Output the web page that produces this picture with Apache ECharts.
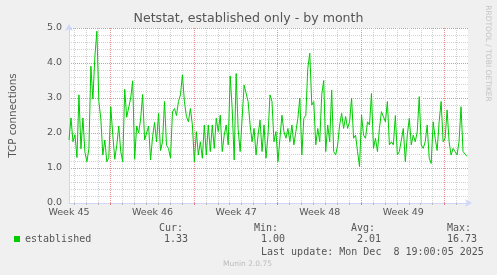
<!DOCTYPE html>
<html>
<head>
<meta charset="utf-8">
<script src="https://cdn.jsdelivr.net/npm/echarts@6/dist/echarts.min.js"></script>
<style>
html,body{margin:0;padding:0;background:#F0F0F0;}
#c{width:497px;height:275px;}
</style>
</head>
<body>
<div id="c"></div>
<script>
// ---- data ----
const weekLabels = ['Week 45', 'Week 46', 'Week 47', 'Week 48', 'Week 49'];
// one sample every 4 hours (1/6 day), starting at the left edge of the plot
const established = [
  1.8, 2.43, 1.75, 1.95, 1.3, 3.09, 1.55, 2.43, 1.45, 1.18,
  1.55, 3.91, 2.97, 4.18, 4.91, 2.9, 2.4, 1.37, 1.8, 1.18,
  1.3, 2.75, 1.95, 1.25, 1.65, 2.2, 1.47, 1.18, 3.25, 2.45,
  2.5, 3.0, 3.49, 1.25, 2.2, 2.0, 2.4, 3.1, 1.8, 1.75,
  2.2, 1.23, 1.9, 2.3, 1.75, 2.56, 1.5, 1.75, 2.9, 1.65,
  1.56, 1.28, 2.6, 2.7, 2.5, 2.9, 3.09, 3.66, 2.9, 2.47,
  2.32, 2.7, 2.23, 1.18, 2.04, 1.37, 1.75, 1.28, 2.23, 1.37,
  2.23, 1.47, 2.23, 1.56, 2.42, 2.04, 2.51, 1.47, 1.94, 2.23,
  1.66, 3.63, 2.7, 1.23, 3.7, 2.1, 1.47, 2.42, 3.37, 3.37,
  2.9, 2.23, 1.75, 2.13, 1.37, 1.94, 2.37, 1.47, 2.23, 1.28,
  1.94, 3.09, 2.9, 1.75, 2.04, 1.18, 1.85, 2.51, 2.04, 1.85,
  2.13, 1.75, 2.23, 1.66, 2.04, 2.42, 3.0, 1.37, 2.42, 2.51,
  3.85, 4.28, 2.8, 2.9, 1.66, 2.13, 1.75, 3.09, 3.5, 1.47,
  2.23, 1.75, 3.23, 1.47, 1.37, 1.66, 2.23, 2.56, 2.13, 2.47,
  2.13, 2.32, 3.0, 1.85, 1.94, 1.47, 1.04, 2.51, 1.94, 1.85,
  2.32, 2.23, 3.13, 1.56, 1.85, 1.47, 2.13, 2.61, 2.61, 2.32,
  2.9, 1.66, 1.75, 1.66, 2.5, 1.37, 1.47, 1.5, 2.13, 1.18,
  1.94, 2.42, 1.66, 1.94, 1.75, 2.04, 3.04, 1.66, 1.56, 1.75,
  2.23, 1.28, 1.13, 2.32, 1.85, 1.5, 2.32, 2.9, 1.75, 1.85,
  2.66, 1.75, 1.37, 1.56, 1.47, 1.37, 1.75, 2.75, 1.47, 1.42,
  1.33
];
const STEP_DAYS = 1 / 6;
const PX_PER_DAY = 12;
const PLOT_W = 401, PLOT_H = 175;
const X_SPAN_DAYS = PLOT_W / PX_PER_DAY;   // visible range in days
const DAY_LINE_FIRST = 5.5 / PX_PER_DAY;    // first day grid line (days from left edge)
const Y_MIN = 0, Y_MAX = 5, Y_MAJOR = 1, Y_MINOR = 0.2;
const Y_HALF_PX = 0.5 * (Y_MAX - Y_MIN) / PLOT_H;

const curText = '1.33', minText = '1.00', avgText = '2.01', maxText = '16.73';
const lastUpdate = 'Last update: Mon Dec  8 19:00:05 2025';

// ---- grid line positions ----
const dayLines = [], weekLines = [], minorYLines = [];
for (let k = 0; DAY_LINE_FIRST + k < X_SPAN_DAYS - 0.05; k++) {
  if (k % 7 === 3) weekLines.push(DAY_LINE_FIRST + k);
  else dayLines.push(DAY_LINE_FIRST + k);
}
for (let m = 1; m * Y_MINOR < Y_MAX - 1e-9; m++) {
  if (m % 5 !== 0) minorYLines.push(m * Y_MINOR - Y_HALF_PX);
}

// ---- chart ----
const FONT = 'DejaVu Sans';
const MONO = 'DejaVu Sans Mono';
const TXT = '#555555';
const AXIS = '#CFD6F8';
const MINOR_GRID = '#D2D2D2';
const MAJOR_GRID = '#E49494';

const chart = echarts.init(document.getElementById('c'), null, {renderer: 'canvas'});

const seriesData = established.map((v, i) => [i * STEP_DAYS, v]);

function gridLineSeries(name, z, color, data) {
  return {
    name: name, type: 'line', data: [], z: z, silent: true,
    xAxisIndex: 0, yAxisIndex: 0,
    markLine: {
      silent: true, animation: false,
      symbol: ['none', 'none'],
      label: {show: false},
      emphasis: {disabled: true},
      lineStyle: {color: color, type: [1, 1], width: 1},
      data: data
    }
  };
}

function tickAxis(values, color) {
  return {
    type: 'value', position: 'bottom',
    min: 0, max: X_SPAN_DAYS,
    axisLine: {show: false, onZero: false},
    axisLabel: {show: false},
    splitLine: {show: false},
    axisTick: {show: true, length: 2, customValues: values, lineStyle: {color: color, width: 1}}
  };
}

const option = {
  backgroundColor: '#F0F0F0',
  animation: false,
  title: {
    text: 'Netstat, established only - by month',
    left: 'center',
    top: 12,
    padding: 0,
    textStyle: {fontFamily: FONT, fontSize: 12.6, fontWeight: 'normal', color: TXT, lineHeight: 14}
  },
  legend: {
    data: ['established'],
    left: 14, top: 234, padding: 0,
    icon: 'rect', itemWidth: 6, itemHeight: 6,
    selectedMode: false,
    textStyle: {fontFamily: MONO, fontSize: 10, color: TXT}
  },
  grid: {
    left: 67, top: 28, width: PLOT_W, height: PLOT_H,
    show: true, backgroundColor: '#FFFFFF', borderWidth: 0
  },
  xAxis: [
    {
      type: 'value', position: 'bottom',
      min: 0, max: X_SPAN_DAYS, interval: 7,
      axisLine: {show: true, onZero: false, symbol: ['none', 'arrow'], symbolSize: [6, 7], symbolOffset: [0, 4],
        lineStyle: {color: AXIS, width: 1}},
      axisTick: {show: false},
      splitLine: {show: false},
      axisLabel: {
        show: true, margin: 5, showMaxLabel: false,
        fontFamily: FONT, fontSize: 9.5, color: TXT,
        formatter: v => {
          const k = Math.round(v / 7);
          return (Math.abs(v - k * 7) < 1e-6 && weekLabels[k]) ? weekLabels[k] : '';
        }
      }
    },
    tickAxis(dayLines, '#BBBBBB'),
    tickAxis(weekLines, '#E08080')
  ],
  yAxis: {
    type: 'value', position: 'left',
    min: Y_MIN, max: Y_MAX, interval: Y_MAJOR,
    name: 'TCP connections', nameLocation: 'middle', nameGap: 51, nameRotate: 90,
    nameTextStyle: {fontFamily: FONT, fontSize: 10.3, color: TXT},
    axisLine: {show: true, onZero: false, symbol: ['none', 'arrow'], symbolSize: [6, 7], symbolOffset: [0, 4],
      lineStyle: {color: AXIS, width: 1}},
    axisTick: {show: false},
    axisLabel: {show: true, margin: 7, fontFamily: FONT, fontSize: 9.5, color: TXT,
      formatter: v => v.toFixed(1)},
    splitLine: {show: true, showMinLine: false,
      lineStyle: {color: MAJOR_GRID, type: [1, 1], width: 1}}
  },
  series: [
    gridLineSeries('minorGrid', 1, MINOR_GRID,
      dayLines.map(d => ({xAxis: d})).concat(minorYLines.map(v => ({yAxis: v})))),
    gridLineSeries('majorGrid', 2, MAJOR_GRID, weekLines.map(d => ({xAxis: d}))),
    {
      name: 'established',
      type: 'line',
      xAxisIndex: 0, yAxisIndex: 0,
      data: seriesData,
      showSymbol: false,
      symbol: 'none',
      z: 5,
      itemStyle: {color: '#00CC00'},
      lineStyle: {color: '#00CC00', width: 1}
    }
  ],
  graphic: [
    {type: 'text', x: 159, y: 228, style: {text: 'Cur:', font: '10px "' + MONO + '"', fill: TXT, verticalAlign: 'middle'}},
    {type: 'text', x: 254, y: 228, style: {text: 'Min:', font: '10px "' + MONO + '"', fill: TXT, verticalAlign: 'middle'}},
    {type: 'text', x: 351, y: 228, style: {text: 'Avg:', font: '10px "' + MONO + '"', fill: TXT, verticalAlign: 'middle'}},
    {type: 'text', x: 447, y: 228, style: {text: 'Max:', font: '10px "' + MONO + '"', fill: TXT, verticalAlign: 'middle'}},
    {type: 'text', x: 164, y: 239.5, style: {text: curText, font: '10px "' + MONO + '"', fill: TXT, verticalAlign: 'middle'}},
    {type: 'text', x: 261, y: 239.5, style: {text: minText, font: '10px "' + MONO + '"', fill: TXT, verticalAlign: 'middle'}},
    {type: 'text', x: 357, y: 239.5, style: {text: avgText, font: '10px "' + MONO + '"', fill: TXT, verticalAlign: 'middle'}},
    {type: 'text', x: 447, y: 239.5, style: {text: maxText, font: '10px "' + MONO + '"', fill: TXT, verticalAlign: 'middle'}},
    {type: 'text', x: 261, y: 252, style: {text: lastUpdate, font: '10px "' + MONO + '"', fill: TXT, verticalAlign: 'middle'}},
    {type: 'text', x: 247.5, y: 264, style: {text: 'Munin 2.0.75', font: '7.5px "' + FONT + '"', fill: '#BBBBBB', align: 'center', verticalAlign: 'middle'}},
    {type: 'text', x: 487.5, y: 53.5, rotation: -Math.PI / 2,
      style: {text: 'RRDTOOL / TOBI OETIKER', font: '7.5px "' + FONT + '"', fill: '#C4C4C4', align: 'center', verticalAlign: 'middle'}}
  ]
};
chart.setOption(option);
</script>
</body>
</html>
